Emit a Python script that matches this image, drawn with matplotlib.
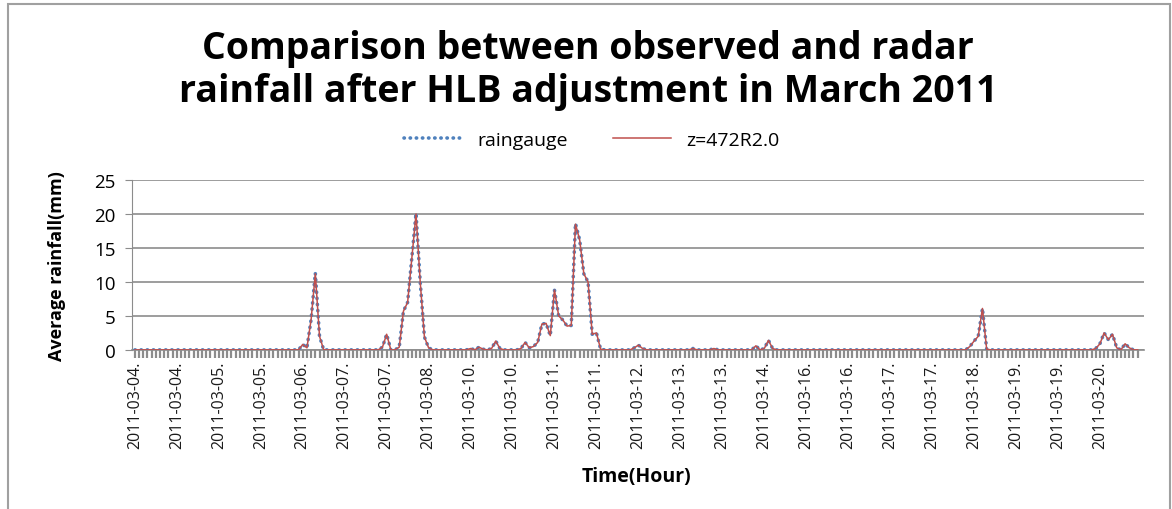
import numpy as np
import matplotlib
matplotlib.use("Agg")
import matplotlib.pyplot as plt
from matplotlib.patches import Rectangle
from matplotlib.lines import Line2D

plt.rcParams['font.family'] = ['Open Sans', 'DejaVu Sans']

# hourly series, 240 points, only the non-zero hours are listed
n_hours = 240
gauge_idx = [40, 41, 42, 43, 44,
             59, 60,
             63, 64, 65, 66, 67, 68, 69, 70,
             80, 82, 83, 85, 86, 87,
             92, 93, 94, 95, 96, 97, 98, 99, 100, 101, 102, 103, 104,
             105, 106, 107, 108, 109, 110, 111,
             119, 120, 121,
             133, 138, 148, 150, 151, 152,
             199, 200, 201, 202, 203,
             229, 230, 231, 232, 233, 234, 236, 237]
gauge_val = [0.8, 0.3, 4.5, 11.3, 2.0,
             0.4, 2.3,
             0.4, 5.7, 7.0, 13.5, 20.1, 10.0, 1.9, 0.3,
             0.2, 0.4, 0.1, 0.2, 1.3, 0.2,
             0.2, 1.1, 0.3, 0.5, 1.1, 3.8, 3.9, 2.1, 8.8, 5.0, 4.4, 3.5, 3.6,
             18.6, 16.2, 11.2, 10.0, 2.3, 2.5, 0.1,
             0.3, 0.7, 0.2,
             0.2, 0.2, 0.6, 0.2, 1.4, 0.2,
             0.5, 1.3, 2.0, 6.1, 0.1,
             0.2, 0.9, 2.5, 1.5, 2.3, 0.3, 0.9, 0.3]
radar_idx = gauge_idx
radar_val = [0.8, 0.3, 4.5, 11.2, 2.0,
             0.4, 2.3,
             0.4, 5.7, 7.0, 13.5, 20.0, 10.0, 1.9, 0.3,
             0.2, 0.4, 0.1, 0.2, 1.3, 0.2,
             0.2, 1.1, 0.3, 0.5, 1.1, 3.8, 3.9, 2.1, 8.8, 5.0, 4.4, 3.5, 3.6,
             18.5, 16.2, 11.2, 10.0, 2.3, 2.5, 0.1,
             0.3, 0.7, 0.2,
             0.2, 0.2, 0.6, 0.2, 1.4, 0.2,
             0.5, 1.3, 2.0, 6.1, 0.1,
             0.2, 0.9, 2.5, 1.5, 2.3, 0.3, 0.9, 0.3]

tick_labels = ['2011-03-04.', '2011-03-04.', '2011-03-05.', '2011-03-05.',
               '2011-03-06.', '2011-03-07.', '2011-03-07.', '2011-03-08.',
               '2011-03-10.', '2011-03-10.', '2011-03-11.', '2011-03-11.',
               '2011-03-12.', '2011-03-13.', '2011-03-13.', '2011-03-14.',
               '2011-03-16.', '2011-03-16.', '2011-03-17.', '2011-03-17.',
               '2011-03-18.', '2011-03-19.', '2011-03-19.', '2011-03-20.']

hours = np.arange(n_hours)
gauge = np.zeros(n_hours)
gauge[gauge_idx] = gauge_val
radar = np.zeros(n_hours)
radar[radar_idx] = radar_val

blue = '#4F81BD'
red = '#C0504D'
grid_c = '#8C8C8C'

fig = plt.figure(figsize=(11.72, 5.10), dpi=100)
ax = fig.add_axes([0.1126, 0.312, 0.8635, 0.333])

ax.plot(hours, gauge, color=blue, lw=2.6, ls=(0, (0.1, 1.6)),
        dash_capstyle='round', label='raingauge', zorder=3)
ax.plot(hours, radar, color=red, lw=1.1, label='z=472R2.0', zorder=4)

ax.set_xlim(-0.7, 240.5)
ax.set_ylim(0, 25)
ax.set_yticks([0, 5, 10, 15, 20, 25])
ax.yaxis.grid(True, color=grid_c, lw=1.2)
ax.set_axisbelow(True)

ax.set_xticks(np.arange(0, n_hours, 10))
ax.set_xticklabels(tick_labels, rotation=90, fontsize=11.5, color='#1a1a1a')
ax.set_xticks(hours, minor=True)
ax.tick_params(axis='x', which='both', length=6, width=1.6, color=grid_c,
               direction='out', pad=2)
ax.tick_params(axis='y', length=5, color=grid_c, labelsize=13.5, pad=7)

for s in ['top', 'right']:
    ax.spines[s].set_visible(False)
ax.spines['left'].set_color(grid_c)
ax.spines['bottom'].set_color(grid_c)
ax.spines['bottom'].set_linewidth(1.2)

ax.set_ylabel('Average rainfall(mm)', fontsize=13, fontweight='bold', labelpad=20)
fig.text(0.543, 0.064, 'Time(Hour)', fontsize=14, fontweight='bold',
         ha='center', va='center')

fig.text(0.502, 0.862, 'Comparison between observed and radar\nrainfall after HLB adjustment in March 2011',
         fontsize=27, fontweight='bold', ha='center', va='center', linespacing=1.15)

handles = [Line2D([], [], color=blue, lw=2.6, ls=(0, (0.1, 1.6)), dash_capstyle='round'),
           Line2D([], [], color=red, lw=1.1)]
fig.legend(handles, ['raingauge', 'z=472R2.0'], loc='center',
           bbox_to_anchor=(0.505, 0.723), ncol=2, frameon=False,
           fontsize=14, handlelength=3.0, columnspacing=2.3, handletextpad=0.8)

fig.patches.append(Rectangle((8 / 1172, -0.01), 1162 / 1172, 1.0, transform=fig.transFigure,
                             fill=False, edgecolor='#A0A0A0', lw=1.5))

fig.savefig('out.png', dpi=100)
